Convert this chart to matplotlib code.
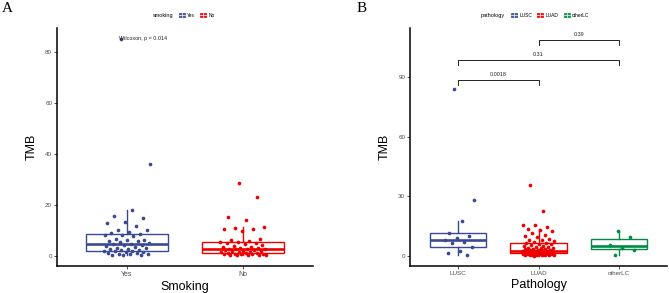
import numpy as np
import matplotlib
matplotlib.use("Agg")
import matplotlib.pyplot as plt
from matplotlib.patches import Rectangle, Patch
from matplotlib.lines import Line2D
from matplotlib.legend_handler import HandlerBase

plt.rcParams['font.family'] = ['Liberation Sans', 'DejaVu Sans']

# ---------------- data ----------------
smoking_cats = ["Yes", "No"]
tmb_yes = [85.2, 36.2, 18.0, 15.7, 15.0, 13.2, 12.8, 11.9, 10.2, 10.2, 9.5, 8.9,
           8.6, 8.4, 8.2, 8.0, 6.8, 6.3, 6.3, 5.9, 5.9, 5.5, 5.0, 4.8, 4.6, 4.5,
           4.2, 4.0, 3.6, 3.3, 3.0, 2.8, 2.6, 2.4, 2.2, 2.0, 1.9, 1.8, 1.6, 1.5,
           1.3, 1.1, 1.0, 0.8, 0.7, 0.5, 0.4, 0.3]
tmb_no = [0.3, 0.4, 0.5, 0.5, 0.6, 0.7, 0.8, 0.9, 1.0, 1.0, 1.1, 1.2, 1.2, 1.4,
          1.5, 1.7, 1.9, 2.0, 2.1, 2.3, 2.5, 2.6, 2.6, 2.7, 2.8, 3.0, 3.3, 3.5,
          3.7, 4.0, 4.2, 4.6, 5.0, 5.2, 5.4, 5.6, 6.0, 6.2, 6.7, 9.8, 10.5, 10.6,
          11.0, 11.2, 14.0, 15.4, 23.0, 28.5]
wilcox_label = "Wilcoxon, p = 0.014"

path_cats = ["LUSC", "LUAD", "otherLC"]
tmb_lusc = [84.0, 28.3, 17.8, 11.8, 10.2, 9.0, 8.3, 6.8, 6.3, 4.6, 2.7, 1.7, 0.7]
tmb_luad = [0.2, 0.3, 0.3, 0.4, 0.5, 0.5, 0.6, 0.7, 0.7, 0.8, 0.9, 0.9, 1.0, 1.0,
            1.1, 1.2, 1.2, 1.3, 1.4, 1.5, 1.6, 1.7, 1.8, 1.9, 2.0, 2.0, 2.1, 2.2,
            2.3, 2.4, 2.4, 2.5, 2.6, 2.6, 2.7, 2.7, 2.8, 2.9, 3.0, 3.1, 3.3, 3.4,
            3.6, 3.8, 4.0, 4.2, 4.4, 4.6, 4.9, 5.2, 5.5, 5.8, 6.1, 6.3, 6.6, 7.0,
            7.4, 7.9, 8.3, 8.8, 9.4, 10.0, 10.8, 11.6, 12.4, 13.0, 13.5, 14.5,
            15.5, 15.5, 22.7, 35.8]
tmb_other = [0.7, 3.0, 4.2, 5.5, 9.7, 12.5]
pairs = [("LUSC", "LUAD"), ("LUSC", "otherLC"), ("LUAD", "otherLC")]
pair_p = ["0.0018", "0.31", "0.39"]

# ---------------- style ----------------
BLUE, RED, GREEN = "#3B4992", "#EE0000", "#008B45"
W, H = 669, 293
fig = plt.figure(figsize=(W / 100, H / 100), dpi=100)


class BoxHandler(HandlerBase):
    def create_artists(self, legend, orig_handle, xdescent, ydescent,
                       width, height, fontsize, trans):
        c = orig_handle.get_edgecolor()
        x0, y0 = -xdescent, -ydescent
        arts = [
            Rectangle((x0 + width * 0.1, y0 + height * 0.15), width * 0.8, height * 0.7,
                      fc=c, ec=c, lw=0.6, alpha=0.9, transform=trans),
            Line2D([x0 + width * 0.1, x0 + width * 0.9], [y0 + height * 0.5] * 2,
                   color="white", lw=0.5, transform=trans),
            Line2D([x0 + width * 0.5] * 2, [y0 + height * 0.15, y0 + height * 0.85],
                   color="white", lw=0.5, transform=trans),
        ]
        return arts


def jitter(n, w=0.2):
    k = np.arange(n)
    return ((k * 0.6180339887 + 0.37) % 1.0 - 0.5) * 2 * w


def style_axes(ax):
    for s in ["top", "right"]:
        ax.spines[s].set_visible(False)
    for s in ["left", "bottom"]:
        ax.spines[s].set_linewidth(1.1)
        ax.spines[s].set_color("black")
    ax.tick_params(axis="both", length=2, width=0.6, color="#333333",
                   labelcolor="#4D4D4D", pad=1.5)
    ax.tick_params(axis="y", labelsize=4.5)
    ax.tick_params(axis="x", labelsize=5)


def draw_groups(ax, groups, colors):
    for i, (vals, col) in enumerate(zip(groups, colors)):
        pos = i + 1
        ax.boxplot([vals], positions=[pos], widths=0.7, whis=1.5,
                   showfliers=False, patch_artist=True,
                   boxprops=dict(facecolor="white", edgecolor=col, linewidth=1.0),
                   medianprops=dict(color=col, linewidth=1.9),
                   whiskerprops=dict(color=col, linewidth=1.0),
                   capprops=dict(linewidth=0), zorder=2)
        ax.scatter(pos + jitter(len(vals)), vals, s=7, color=col, linewidths=0, zorder=3)


# ---------------- Panel A ----------------
axA = fig.add_axes([57 / W, 1 - 266 / H, 256 / W, 238 / H])
draw_groups(axA, [tmb_yes, tmb_no], [BLUE, RED])
axA.set_xlim(0.4, 2.6)
axA.set_ylim(-3.9, 89.4)
axA.set_xticks([1, 2])
axA.set_xticklabels(smoking_cats)
axA.set_yticks([0, 20, 40, 60, 80])
style_axes(axA)
axA.set_xlabel("Smoking", fontsize=9, labelpad=2)
axA.set_ylabel("TMB", fontsize=9, labelpad=5)
axA.text(0.93, 85.2, wilcox_label, fontsize=3.9, ha="left", va="center", color="#222222")

fig.text(2 / W, 1 - 9 / H, "A", fontsize=11, family="Liberation Serif", va="center", ha="left")
fig.text(153 / W, 1 - 15 / H, "smoking", fontsize=4, va="center", ha="left")
fig.legend([Patch(edgecolor=BLUE), Patch(edgecolor=RED)], smoking_cats,
           handler_map={Patch: BoxHandler()}, ncol=2, loc="center left",
           bbox_to_anchor=(178 / W, 1 - 15 / H), frameon=False, fontsize=3.5,
           handlelength=1.5, handleheight=1.3, handletextpad=0.4, columnspacing=0.9,
           borderpad=0, borderaxespad=0)

# ---------------- Panel B ----------------
axB = fig.add_axes([410 / W, 1 - 266 / H, 257 / W, 238 / H])
draw_groups(axB, [tmb_lusc, tmb_luad, tmb_other], [BLUE, RED, GREEN])
axB.set_xlim(0.4, 3.6)
axB.set_ylim(-5.0, 114.5)
axB.set_xticks([1, 2, 3])
axB.set_xticklabels(path_cats)
axB.set_yticks([0, 30, 60, 90])
style_axes(axB)
axB.tick_params(axis="x", labelsize=4.5)
axB.set_xlabel("Pathology", fontsize=9, labelpad=2)
axB.set_ylabel("TMB", fontsize=9, labelpad=5)

bracket_y = [88.3, 98.3, 108.3]
for (a, b), lab, yb in zip(pairs, pair_p, bracket_y):
    x1, x2 = path_cats.index(a) + 1, path_cats.index(b) + 1
    axB.plot([x1, x1, x2, x2], [yb - 2.3, yb, yb, yb - 2.3], color="#222222", lw=0.7)
    axB.text((x1 + x2) / 2, yb + 1.5, lab, fontsize=3.9, ha="center", va="bottom", color="#222222")

fig.text(357 / W, 1 - 9 / H, "B", fontsize=11, family="Liberation Serif", va="center", ha="left")
fig.text(481 / W, 1 - 15 / H, "pathology", fontsize=4, va="center", ha="left")
fig.legend([Patch(edgecolor=BLUE), Patch(edgecolor=RED), Patch(edgecolor=GREEN)], path_cats,
           handler_map={Patch: BoxHandler()}, ncol=3, loc="center left",
           bbox_to_anchor=(510 / W, 1 - 15 / H), frameon=False, fontsize=3.5,
           handlelength=1.5, handleheight=1.3, handletextpad=0.4, columnspacing=0.9,
           borderpad=0, borderaxespad=0)

fig.savefig("out.png", dpi=100)
